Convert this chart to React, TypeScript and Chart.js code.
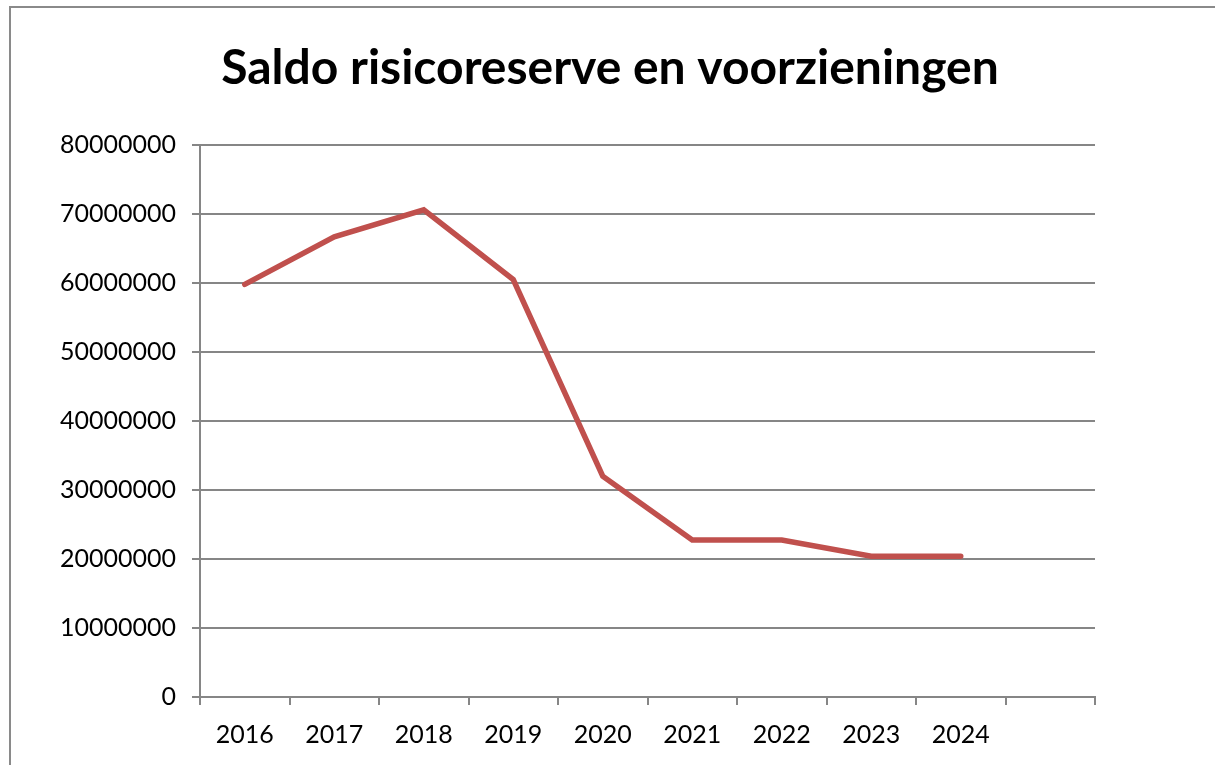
import React, { useEffect, useRef } from "react";
import { Chart, registerables } from "chart.js";

Chart.register(...registerables);

const titleText = "Saldo risicoreserve en voorzieningen";
const years = ["2016", "2017", "2018", "2019", "2020", "2021", "2022", "2023", "2024", ""];
const saldo = [59800000, 66700000, 70600000, 60500000, 32000000, 22750000, 22750000, 20400000, 20400000, null];
const yMin = 0;
const yMax = 80000000;
const yStep = 10000000;

const FONT = "Lato, 'Open Sans', sans-serif";
const GRID = "#868686";

const framePlugin = {
  id: "frame",
  beforeDraw(chart: any) {
    const ctx = chart.ctx;
    ctx.save();
    ctx.fillStyle = "#ffffff";
    ctx.fillRect(0, 0, chart.width, chart.height);
    ctx.strokeStyle = "#8a8a8a";
    ctx.lineWidth = 2;
    ctx.beginPath();
    ctx.moveTo(10, chart.height + 2);
    ctx.lineTo(10, 7);
    ctx.lineTo(chart.width + 2, 7);
    ctx.stroke();
    ctx.restore();
  },
  afterDraw(chart: any) {
    const ctx = chart.ctx;
    ctx.save();
    ctx.fillStyle = "#000";
    ctx.font = `bold 48px ${FONT}`;
    ctx.textAlign = "center";
    ctx.textBaseline = "alphabetic";
    ctx.fillText(titleText, 610, 84);
    ctx.restore();
  },
};

export default function App() {
  const ref = useRef<HTMLCanvasElement | null>(null);
  useEffect(() => {
    if (!ref.current) return;
    const chart = new Chart(ref.current, {
      type: "line",
      data: {
        labels: years,
        datasets: [
          {
            data: saldo,
            borderColor: "#C0504D",
            backgroundColor: "#C0504D",
            borderWidth: 5.5,
            pointRadius: 0,
            tension: 0,
            borderCapStyle: "round",
            borderJoinStyle: "miter",
          },
        ],
      },
      options: {
        animation: false,
        responsive: false,
        layout: { padding: { left: 10, right: 120, top: 145, bottom: 0 } },
        plugins: {
          legend: { display: false },
          tooltip: { enabled: false },
          title: { display: false },
        },
        scales: {
          x: {
            type: "category",
            offset: true,
            grid: {
              display: true,
              offset: true,
              drawOnChartArea: false,
              drawTicks: true,
              tickLength: 8,
              color: GRID,
              lineWidth: 2,
            },
            border: { display: true, color: GRID, width: 2 },
            ticks: {
              color: "#000",
              font: { family: FONT, size: 25 },
              padding: 15,
              maxRotation: 0,
              autoSkip: false,
            },
            afterFit(scale: any) {
              scale.height = 68;
            },
          },
          y: {
            min: yMin,
            max: yMax,
            grid: {
              color: GRID,
              lineWidth: 2,
              tickLength: 8,
              drawTicks: true,
            },
            border: { display: true, color: GRID, width: 2 },
            ticks: {
              stepSize: yStep,
              color: "#000",
              font: { family: FONT, size: 25 },
              padding: 16,
              callback: (v: any) => String(v),
            },
            afterFit(scale: any) {
              scale.width = 190;
            },
          },
        },
      },
      plugins: [framePlugin],
    });
    return () => chart.destroy();
  }, []);
  return (
    <div style={{ position: "absolute", left: 0, top: 0, width: 1215, height: 765, overflow: "hidden" }}>
      <canvas ref={ref} width={1215} height={765} style={{ display: "block" }} />
    </div>
  );
}
